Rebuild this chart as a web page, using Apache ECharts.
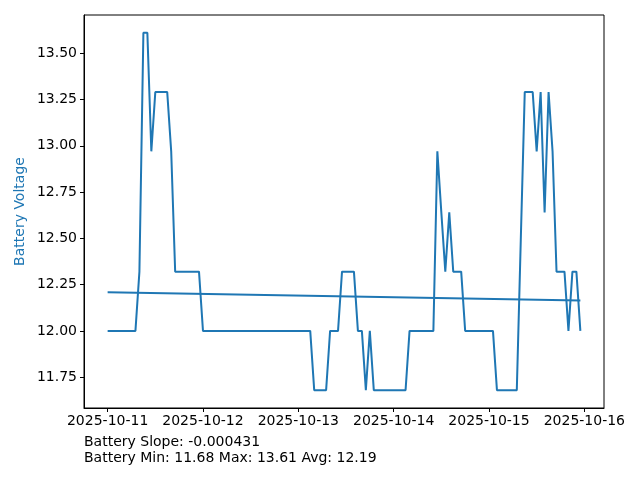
<!DOCTYPE html>
<html>
<head>
<meta charset="utf-8">
<script src="https://cdn.jsdelivr.net/npm/echarts@6/dist/echarts.min.js"></script>
<style>html,body{margin:0;padding:0;background:#fff;}#c{width:640px;height:480px;}</style>
</head>
<body>
<div id="c"></div>
<script>
// Hourly readings starting 2025-10-11 00:00
const startLabel = '2025-10-11 00:00';
const voltage = [
  12.00,12.00,12.00,12.00,12.00,12.00,12.00,12.00,12.32,13.61,13.61,12.97,13.29,13.29,13.29,13.29,12.97,12.32,12.32,12.32,12.32,12.32,12.32,12.32,
  12.00,12.00,12.00,12.00,12.00,12.00,12.00,12.00,12.00,12.00,12.00,12.00,12.00,12.00,12.00,12.00,12.00,12.00,12.00,12.00,12.00,12.00,12.00,12.00,
  12.00,12.00,12.00,12.00,11.68,11.68,11.68,11.68,12.00,12.00,12.00,12.32,12.32,12.32,12.32,12.00,12.00,11.68,12.00,11.68,11.68,11.68,11.68,11.68,
  11.68,11.68,11.68,11.68,12.00,12.00,12.00,12.00,12.00,12.00,12.00,12.97,12.64,12.32,12.64,12.32,12.32,12.32,12.00,12.00,12.00,12.00,12.00,12.00,
  12.00,12.00,11.68,11.68,11.68,11.68,11.68,11.68,12.49,13.29,13.29,13.29,12.97,13.29,12.64,13.29,12.97,12.32,12.32,12.32,12.00,12.32,12.32,12.00
];
const xTickHours = [0, 24, 48, 72, 96, 120];
const xTickLabels = ['2025-10-11','2025-10-12','2025-10-13','2025-10-14','2025-10-15','2025-10-16'];
const yTicks = [11.75, 12.00, 12.25, 12.50, 12.75, 13.00, 13.25, 13.50];
const statsText = ['Battery Slope: -0.000431', 'Battery Min: 11.68 Max: 13.61 Avg: 12.19'];

const pts = voltage.map((v, i) => [i, v]);
// least-squares trend line
const n = pts.length;
let sx = 0, sy = 0, sxx = 0, sxy = 0;
pts.forEach(([x, y]) => { sx += x; sy += y; sxx += x * x; sxy += x * y; });
const b = (n * sxy - sx * sy) / (n * sxx - sx * sx);
const a = (sy - b * sx) / n;
const trend = [[0, a], [n - 1, a + b * (n - 1)]];

const xMinD = 0, xMaxD = n - 1, xSpan = xMaxD - xMinD;
const vMin = Math.min(...voltage), vMax = Math.max(...voltage), vSpan = vMax - vMin;

const blue = '#1f77b4';
const font = 'DejaVu Sans';
const chart = echarts.init(document.getElementById('c'), null, {renderer: 'canvas'});
chart.setOption({
  animation: false,
  backgroundColor: '#fff',
  grid: {left: 84, right: 36, top: 15, bottom: 72, show: true, borderColor: '#000', borderWidth: 1, containLabel: false},
  xAxis: {
    type: 'value',
    min: xMinD - 0.05 * xSpan,
    max: xMaxD + 0.05 * xSpan,
    splitLine: {show: false},
    axisLine: {show: true, onZero: false, lineStyle: {color: '#000', width: 1}},
    axisTick: {show: true, length: 4, customValues: xTickHours, lineStyle: {color: '#000'}},
    axisLabel: {
      customValues: xTickHours, color: '#000', fontFamily: font, fontSize: 14, margin: 6,
      formatter: v => xTickLabels[xTickHours.indexOf(v)] || ''
    }
  },
  yAxis: {
    type: 'value',
    min: vMin - 0.05 * vSpan,
    max: vMax + 0.05 * vSpan,
    name: 'Battery Voltage',
    nameLocation: 'middle',
    nameGap: 57,
    nameMoveOverlap: false,
    nameTextStyle: {color: blue, fontFamily: font, fontSize: 14},
    splitLine: {show: false},
    axisLine: {show: true, onZero: false, lineStyle: {color: '#000', width: 1}},
    axisTick: {show: true, length: 4, customValues: yTicks, lineStyle: {color: '#000'}},
    axisLabel: {
      customValues: yTicks, color: '#000', fontFamily: font, fontSize: 14, margin: 7,
      formatter: v => v.toFixed(2)
    }
  },
  series: [
    {type: 'line', data: pts, showSymbol: false, lineStyle: {color: blue, width: 2}, itemStyle: {color: blue}, z: 3},
    {type: 'line', data: trend, showSymbol: false, lineStyle: {color: blue, width: 2}, itemStyle: {color: blue}, z: 2}
  ],
  graphic: [
    {type: 'text', left: 84, top: 434, style: {text: statsText.join('\n'), font: '14px "DejaVu Sans"', fill: '#000', lineHeight: 16}}
  ]
});
</script>
</body>
</html>
